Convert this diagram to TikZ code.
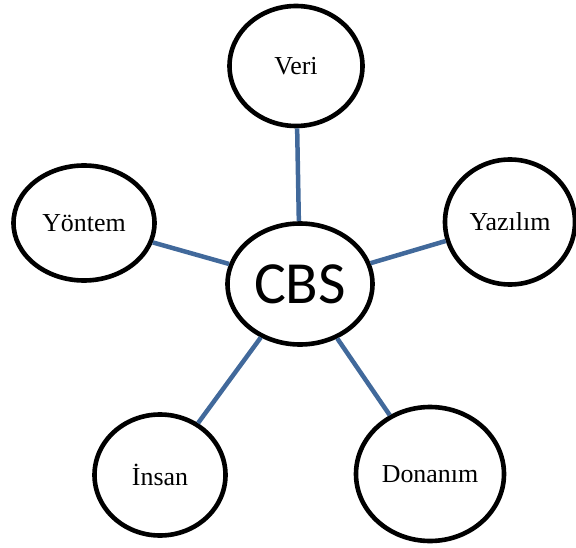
\documentclass[tikz,border=0pt]{standalone}
\usepackage{fontspec}
\setmainfont{Liberation Serif}
\newfontfamily\cbsfont{Carlito}
\usepackage{tikz}
\usetikzlibrary{shapes.geometric}
\definecolor{linkblue}{RGB}{65,105,155}
\tikzset{%
  part/.style={ellipse, draw=black, line width=4.6bp, fill=white, inner sep=0pt,
    font=\fontsize{26}{30}\selectfont},
  core/.style={part, font=\cbsfont\fontsize{60}{66}\selectfont},
  link/.style={linkblue, line width=4.5bp}
}

\begin{document}
\begin{tikzpicture}[x=1bp,y=-1bp]
\useasboundingbox (0,0) rectangle (576,548);
\node[core, minimum width=145bp, minimum height=121bp] (cbs) at (300,284) {CBS};
\node[part, minimum width=133bp, minimum height=120bp] (veri) at (296,66) {Veri};
\node[part, minimum width=141bp, minimum height=115bp] (yontem) at (84,223) {Yöntem};
\node[part, minimum width=130bp, minimum height=125bp] (yazilim) at (510,222) {Yazılım};
\node[part, minimum width=131bp, minimum height=121bp] (insan) at (160,475) {İnsan};
\node[part, minimum width=148bp, minimum height=134bp] (donanim) at (430,474) {Donanım};
%links
\draw[link] (cbs) -- (veri);
\draw[link] (cbs) -- (yontem);
\draw[link] (cbs) -- (yazilim);
\draw[link] (cbs) -- (insan);
\draw[link] (cbs) -- (donanim);
\end{tikzpicture}
\end{document}
